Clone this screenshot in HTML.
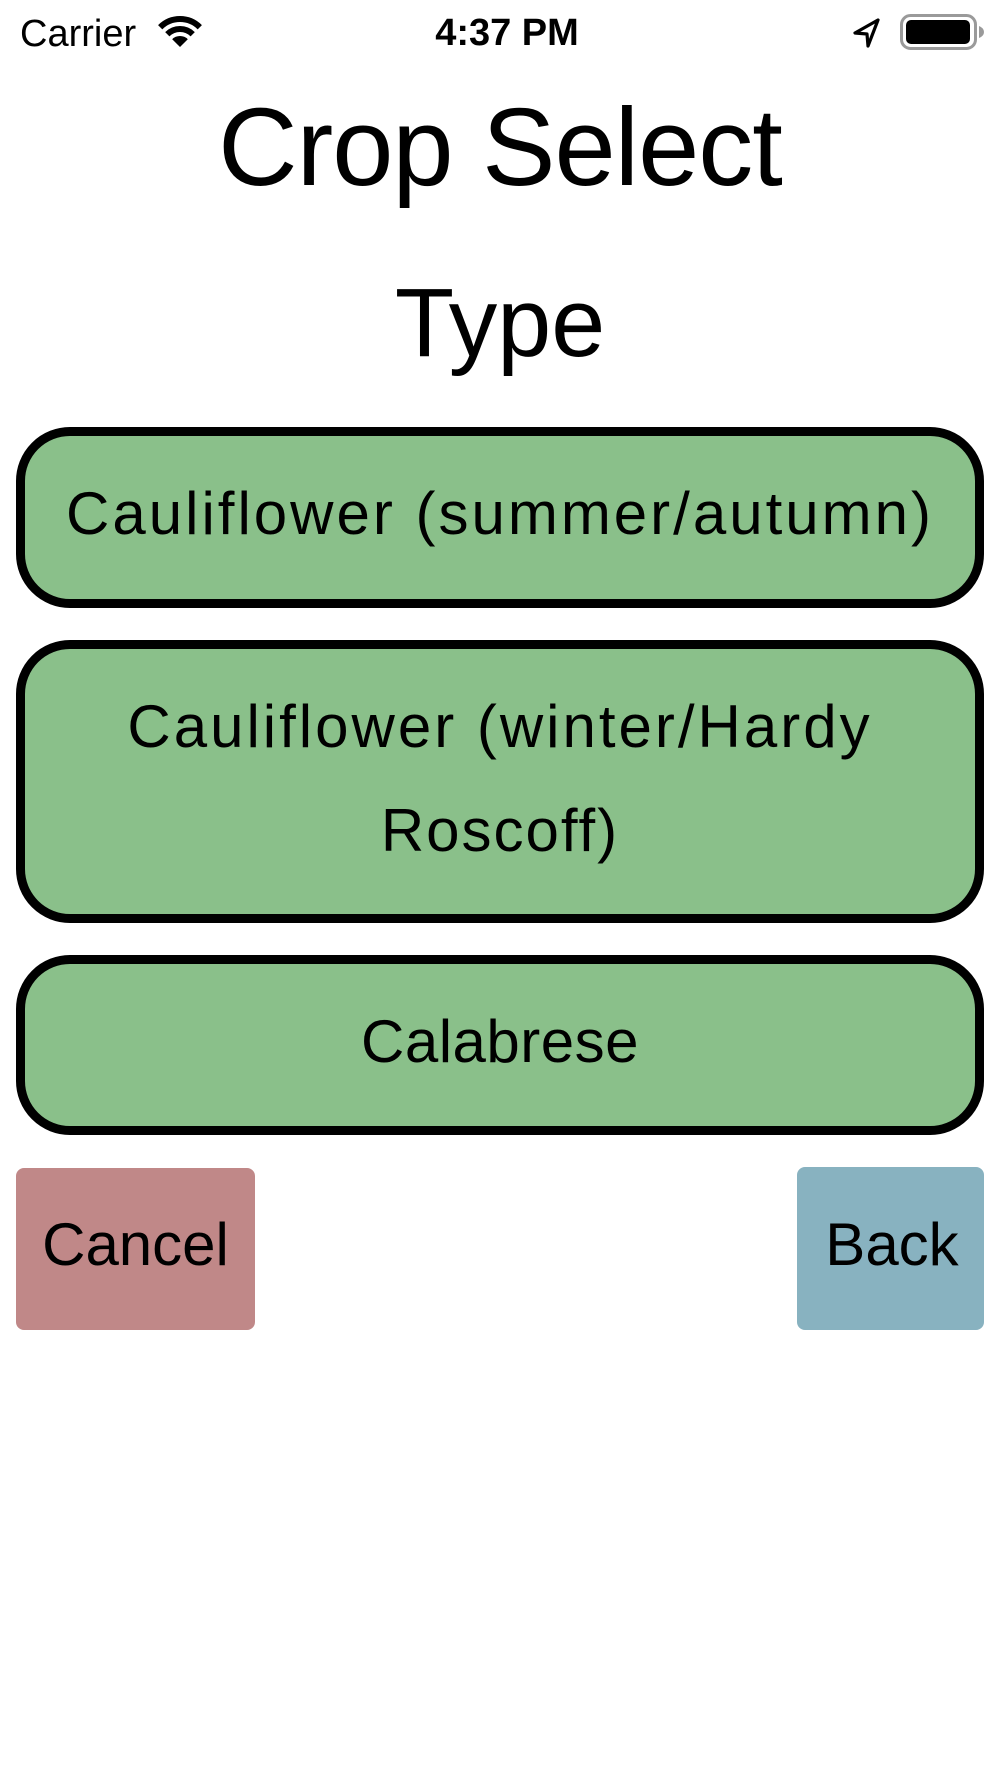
<!DOCTYPE html>
<html>
<head>
<meta charset="utf-8">
<style>
  html, body { margin:0; padding:0; }
  body { width:1000px; height:1778px; background:#ffffff; position:relative; overflow:hidden; font-family:"Liberation Sans", sans-serif; color:#000; }
  .t { position:absolute; white-space:nowrap; }
  .btn { position:absolute; box-sizing:border-box; background:#8ac08a; border:9px solid #000; border-radius:54px; left:16px; width:968px; }
  .bt { position:absolute; left:0; width:1000px; text-align:center; font-size:60px; line-height:60px; letter-spacing:2.5px; white-space:nowrap; }
  .sq { position:absolute; border-radius:8px; }
</style>
</head>
<body>
  <!-- status bar -->
  <div class="t" style="left:20px; top:15px; font-size:38px; line-height:38px;">Carrier</div>
  <div class="t" style="left:407px; width:200px; text-align:center; top:14px; font-size:38px; line-height:38px; font-weight:bold;">4:37 PM</div>
  <svg style="position:absolute; left:0; top:0;" width="1000" height="60" viewBox="0 0 1000 60">
    <!-- wifi -->
    <path d="M180 47 L172.2 39.2 A11 11 0 0 1 187.8 39.2 Z" fill="#000"/>
    <path d="M167.3 34.3 A18 18 0 0 1 192.7 34.3" fill="none" stroke="#000" stroke-width="6"/>
    <path d="M160.2 27.2 A28 28 0 0 1 199.8 27.2" fill="none" stroke="#000" stroke-width="6"/>
    <!-- location arrow -->
    <path d="M878 20 L855 33 L867 34 L868 46 Z" fill="none" stroke="#000" stroke-width="3.2" stroke-linejoin="round"/>
    <!-- battery -->
    <rect x="901.5" y="15.5" width="74" height="33" rx="9" ry="9" fill="none" stroke="#9a9a9a" stroke-width="3"/>
    <rect x="906" y="20" width="64" height="24" rx="5" ry="5" fill="#000"/>
    <path d="M979 26 Q984 28 984 32 Q984 36 979 38 Z" fill="#9a9a9a"/>
  </svg>

  <!-- titles -->
  <div class="t" style="left:0; width:1000px; text-align:center; top:93px; font-size:110px; line-height:110px; letter-spacing:-1px;">Crop Select</div>
  <div class="t" style="left:0; width:1000px; text-align:center; top:274px; font-size:97px; line-height:97px;">Type</div>

  <!-- buttons -->
  <div class="btn" style="top:427px; height:181px;"></div>
  <div class="bt" style="top:484px; letter-spacing:3px;">Cauliflower (summer/autumn)</div>

  <div class="btn" style="top:640px; height:283px;"></div>
  <div class="bt" style="top:697px; letter-spacing:3px;">Cauliflower (winter/Hardy</div>
  <div class="bt" style="top:801px; letter-spacing:2px;">Roscoff)</div>

  <div class="btn" style="top:955px; height:180px;"></div>
  <div class="bt" style="top:1012px; letter-spacing:0.5px;">Calabrese</div>

  <!-- cancel / back -->
  <div class="sq" style="left:16px; top:1168px; width:239px; height:162px; background:#c08888;"></div>
  <div class="t" style="left:16px; width:239px; text-align:center; top:1215px; font-size:60px; line-height:60px;">Cancel</div>

  <div class="sq" style="left:797px; top:1167px; width:187px; height:163px; background:#88b2c0;"></div>
  <div class="t" style="left:797px; width:190px; text-align:center; top:1215px; font-size:60px; line-height:60px;">Back</div>
</body>
</html>
